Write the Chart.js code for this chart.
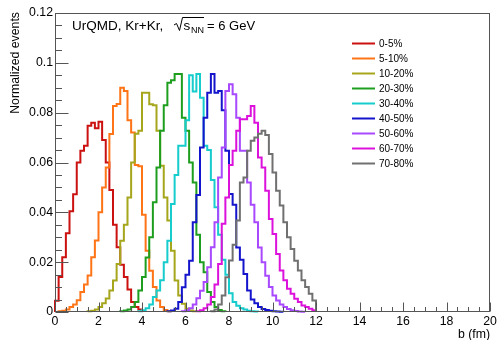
<!DOCTYPE html>
<html>
<head>
<meta charset="utf-8">
<script src="https://cdn.jsdelivr.net/npm/chart.js@4.4.1/dist/chart.umd.min.js"></script>
<style>
html,body{margin:0;padding:0;background:#fff;}
#box{position:relative;width:499px;height:340px;}
</style>
</head>
<body>
<div id="box"><canvas id="chart" width="499" height="340"></canvas></div>
<script>
// ---------------- data ----------------
const binWidth = 1 / 6;               // fm per histogram bin
const xTickValues = [0, 2, 4, 6, 8, 10, 12, 14, 16, 18, 20];
const xTickLabels = ['0', '2', '4', '6', '8', '10', '12', '14', '16', '18', '20'];
const yTickValues = [0, 0.02, 0.04, 0.06, 0.08, 0.1, 0.12];
const yTickLabels = ['0', '0.02', '0.04', '0.06', '0.08', '0.1', '0.12'];
const centralityClasses = ['0-5%', '5-10%', '10-20%', '20-30%', '30-40%', '40-50%', '50-60%', '60-70%', '70-80%'];
const firstBin = [0, 1, 9, 18, 23, 31, 35, 39, 43];

const hist_0_5 = [0.0045, 0.014, 0.022, 0.0316, 0.0404, 0.0473, 0.060, 0.0647, 0.0667, 0.0747, 0.076, 0.0737, 0.0764,
  0.069, 0.060, 0.049, 0.035, 0.026, 0.019, 0.014, 0.009, 0.004, 0.002, 0.001];
const hist_5_10 = [0.0003, 0.0005, 0.001, 0.002, 0.003, 0.0047, 0.008, 0.011, 0.0146, 0.022, 0.0287, 0.040, 0.050,
  0.058, 0.0714, 0.0827, 0.0835, 0.090, 0.0887, 0.077, 0.072, 0.059, 0.0585, 0.039, 0.0246, 0.0166, 0.010, 0.0046,
  0.002, 0.0008, 0.0003];
const hist_10_20 = [0.0003, 0.0005, 0.001, 0.002, 0.0035, 0.0054, 0.0086, 0.0126, 0.0193, 0.0286, 0.035, 0.046, 0.060,
  0.0715, 0.0727, 0.088, 0.088, 0.0834, 0.083, 0.0727, 0.0587, 0.046, 0.0367, 0.0246, 0.0126, 0.0066, 0.0033, 0.0013,
  0.0006, 0.0003];
const hist_20_30 = [0.0003, 0.0006, 0.001, 0.002, 0.004, 0.0086, 0.014, 0.0219, 0.030, 0.044, 0.058, 0.0727, 0.083,
  0.092, 0.093, 0.0955, 0.0955, 0.078, 0.0727, 0.060, 0.052, 0.031, 0.020, 0.016, 0.008, 0.004, 0.002, 0.0008, 0.0003];
const hist_30_40 = [0.0003, 0.0007, 0.0015, 0.003, 0.006, 0.0086, 0.0127, 0.020, 0.0286, 0.0433, 0.055, 0.0667, 0.0667,
  0.077, 0.095, 0.0885, 0.0955, 0.086, 0.0667, 0.065, 0.053, 0.042, 0.031, 0.021, 0.015, 0.0075, 0.004, 0.0025, 0.0015,
  0.001, 0.0005, 0.0003, 0.0002];
const hist_40_50 = [0.0003, 0.0006, 0.0013, 0.004, 0.0099, 0.015, 0.0206, 0.036, 0.047, 0.066, 0.078, 0.088, 0.0955,
  0.088, 0.0887, 0.081, 0.0647, 0.0474, 0.043, 0.0259, 0.021, 0.0153, 0.0086, 0.005, 0.0035, 0.002, 0.0012, 0.0008,
  0.0005, 0.0003, 0.0002, 0.0001];
const hist_50_60 = [0.0003, 0.0007, 0.0015, 0.003, 0.0055, 0.0085, 0.012, 0.018, 0.026, 0.036, 0.054, 0.066, 0.0887,
  0.0914, 0.0874, 0.078, 0.0647, 0.0647, 0.052, 0.043, 0.036, 0.0259, 0.020, 0.0145, 0.010, 0.0066, 0.0046, 0.003,
  0.002, 0.0012, 0.0007, 0.0004, 0.0002, 0.0001];
const hist_60_70 = [0.0003, 0.0007, 0.0015, 0.003, 0.006, 0.011, 0.0193, 0.0354, 0.046, 0.059, 0.0647, 0.0727, 0.0774,
  0.0774, 0.0787, 0.0827, 0.076, 0.062, 0.058, 0.0487, 0.0373, 0.0313, 0.0233, 0.0167, 0.0127, 0.0093, 0.0073, 0.0053,
  0.004, 0.0026, 0.002, 0.0013, 0.0007];
const hist_70_80 = [0.0003, 0.001, 0.003, 0.0066, 0.0139, 0.0207, 0.027, 0.0367, 0.052, 0.054, 0.0647, 0.0687, 0.070,
  0.0715, 0.0727, 0.071, 0.0634, 0.056, 0.0487, 0.0427, 0.036, 0.030, 0.0253, 0.0206, 0.0167, 0.0127, 0.010, 0.0073,
  0.0046];

const seriesValues = [hist_0_5, hist_5_10, hist_10_20, hist_20_30, hist_30_40, hist_40_50, hist_50_60, hist_60_70, hist_70_80];
const seriesColors = ['#cc1111', '#ff7416', '#a6a61c', '#1e9e1e', '#16cccc', '#1414cc', '#a848ff', '#dc12dc', '#707070'];

// ---------------- chart ----------------
const FONT = '"Liberation Sans", Arial, Helvetica, sans-serif';

const datasets = seriesValues.map((vals, k) => {
  const s = firstBin[k];
  const pts = [{ x: s * binWidth, y: 0 }];
  vals.forEach((v, i) => pts.push({ x: (s + i) * binWidth, y: v }));
  pts.push({ x: (s + vals.length) * binWidth, y: 0 });
  return {
    label: centralityClasses[k],
    data: pts,
    borderColor: seriesColors[k],
    backgroundColor: seriesColors[k],
    borderWidth: 2,
    pointRadius: 0,
    pointHoverRadius: 0,
    stepped: 'before',
    fill: false,
    tension: 0,
    order: seriesValues.length - k,
    clip: 3
  };
});

function minorValues(majors, n) {
  const out = [];
  for (let i = 0; i < majors.length - 1; i++) {
    for (let j = 1; j < n; j++) out.push(majors[i] + (majors[i + 1] - majors[i]) * j / n);
  }
  return out;
}

const rootStyle = {
  id: 'rootStyle',
  afterDraw(chart) {
    const { ctx, chartArea: a } = chart;
    const xs = chart.scales.x, ys = chart.scales.y;
    ctx.save();
    // frame
    ctx.strokeStyle = '#555';
    ctx.lineWidth = 1;
    const L = Math.round(a.left) + 0.5, R = Math.round(a.right) - 0.5;
    const T = Math.round(a.top) + 0.5, B = Math.round(a.bottom) - 0.5;
    ctx.strokeRect(L, T, R - L, B - T);
    // ticks (inward)
    ctx.beginPath();
    xs.ticks.forEach(t => { const p = Math.round(xs.getPixelForValue(t.value)) + 0.5; ctx.moveTo(p, B); ctx.lineTo(p, B - 9); });
    minorValues(xs.ticks.map(t => t.value), 4).forEach(v => { const p = Math.round(xs.getPixelForValue(v)) + 0.5; ctx.moveTo(p, B); ctx.lineTo(p, B - 4.5); });
    ys.ticks.forEach(t => { const p = Math.round(ys.getPixelForValue(t.value)) + 0.5; ctx.moveTo(L, p); ctx.lineTo(L + 13, p); });
    minorValues(ys.ticks.map(t => t.value), 4).forEach(v => { const p = Math.round(ys.getPixelForValue(v)) + 0.5; ctx.moveTo(L, p); ctx.lineTo(L + 6.5, p); });
    ctx.stroke();

    ctx.fillStyle = '#000';
    // axis titles
    ctx.font = '12.3px ' + FONT;
    ctx.textAlign = 'right';
    ctx.textBaseline = 'alphabetic';
    ctx.fillText('b (fm)', a.right, 337.5);
    ctx.save();
    ctx.translate(18.5, a.top - 1);
    ctx.rotate(-Math.PI / 2);
    ctx.textAlign = 'right';
    ctx.fillText('Normalized events', 0, 0);
    ctx.restore();

    // header text: UrQMD, Kr+Kr,  sqrt(s_NN) = 6 GeV
    ctx.textAlign = 'left';
    ctx.font = '13.5px ' + FONT;
    ctx.fillText('UrQMD, Kr+Kr,', 72, 29.5);
    ctx.beginPath();
    ctx.strokeStyle = '#000';
    ctx.lineWidth = 1;
    ctx.moveTo(174, 25);
    ctx.lineTo(176.5, 23.5);
    ctx.lineTo(179.5, 30.5);
    ctx.lineTo(182.5, 17.5);
    ctx.lineTo(204, 17.5);
    ctx.stroke();
    ctx.fillText('s', 183.5, 29.5);
    ctx.font = '9px ' + FONT;
    ctx.fillText('NN', 191, 32.5);
    ctx.font = '13px ' + FONT;
    ctx.fillText('= 6 GeV', 207, 29.5);

    // legend
    ctx.font = '10px ' + FONT;
    ctx.textBaseline = 'middle';
    chart.data.datasets.forEach((ds, i) => {
      const yy = 43.5 + i * 15;
      ctx.beginPath();
      ctx.strokeStyle = ds.borderColor;
      ctx.lineWidth = 2;
      ctx.moveTo(352, yy);
      ctx.lineTo(375, yy);
      ctx.stroke();
      ctx.fillStyle = '#000';
      ctx.fillText(ds.label, 379, yy + 0.5);
    });
    ctx.restore();
  }
};

new Chart(document.getElementById('chart'), {
  type: 'line',
  data: { datasets },
  options: {
    responsive: false,
    animation: false,
    devicePixelRatio: 1,
    layout: { padding: { left: 0, right: 9, top: 13, bottom: 0 } },
    plugins: { legend: { display: false }, tooltip: { enabled: false } },
    scales: {
      x: {
        type: 'linear', min: 0, max: 20,
        afterBuildTicks: s => { s.ticks = xTickValues.map(v => ({ value: v })); },
        afterFit: s => { s.height = 28; },
        grid: { display: false, drawTicks: false },
        border: { display: false },
        ticks: { font: { family: FONT, size: 12.3 }, color: '#000', padding: 2, maxRotation: 0, autoSkip: false,
          callback: (v, i) => xTickLabels[i] }
      },
      y: {
        type: 'linear', min: 0, max: 0.12,
        afterBuildTicks: s => { s.ticks = yTickValues.map(v => ({ value: v })); },
        afterFit: s => { s.width = 55; },
        grid: { display: false, drawTicks: false },
        border: { display: false },
        ticks: { font: { family: FONT, size: 12.3 }, color: '#000', padding: 2, autoSkip: false,
          callback: (v, i) => yTickLabels[i] }
      }
    }
  },
  plugins: [rootStyle]
});
</script>
</body>
</html>
